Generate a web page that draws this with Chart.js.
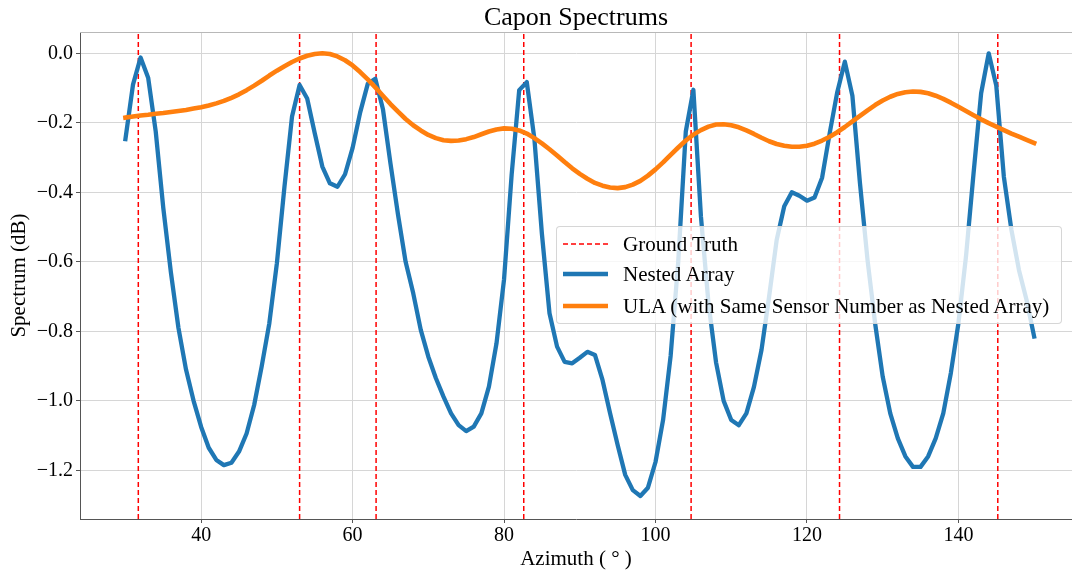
<!DOCTYPE html>
<html>
<head>
<meta charset="utf-8">
<title>Capon Spectrums</title>
<script src="https://cdn.jsdelivr.net/npm/chart.js@4.4.0/dist/chart.umd.min.js"></script>
<style>
  html, body { margin: 0; padding: 0; background: #fff; }
  #wrap { position: relative; width: 1072px; height: 574px; }
  #legend {
    position: absolute; left: 556px; top: 226px; width: 504px; height: 96px;
    background: rgba(255, 255, 255, 0.8);
    border: 1px solid rgba(204, 204, 204, 0.8);
    border-radius: 4px;
    font-family: "Liberation Serif", "Times New Roman", serif;
    font-size: 21px; color: #000;
  }
  .row { position: absolute; left: 0; height: 30px; display: flex; align-items: center; white-space: nowrap; }
  .row svg { margin-left: 6px; }
  .row span { margin-left: 15px; }
</style>
</head>
<body>
<div id="wrap">
  <canvas id="chart" width="1072" height="574"></canvas>
  <div id="legend"></div>
</div>
<script>
// azimuth grid (deg), 1 degree steps
const azimuth = [];
for (let a = 30; a <= 150; a++) azimuth.push(a);

// Nested array Capon spectrum (dB)
const nestedArray = [
  -0.247, -0.090, -0.012, -0.070, -0.225, -0.445, -0.630, -0.790, -0.910, -1.000,   // 30-39
  -1.075, -1.135, -1.170, -1.185, -1.178, -1.146, -1.094, -1.012, -0.900, -0.777,   // 40-49
  -0.604, -0.384, -0.182, -0.091, -0.130, -0.230, -0.326, -0.374, -0.384, -0.348,   // 50-59
  -0.272, -0.170, -0.088, -0.073, -0.160, -0.317, -0.465, -0.600, -0.690, -0.796,   // 60-69
  -0.873, -0.935, -0.988, -1.036, -1.070, -1.087, -1.074, -1.036, -0.959, -0.835,   // 70-79
  -0.650, -0.350, -0.106, -0.083, -0.245, -0.520, -0.748, -0.844, -0.888, -0.892,   // 80-89
  -0.876, -0.859, -0.868, -0.940, -1.036, -1.127, -1.213, -1.257, -1.274, -1.250,   // 90-99
  -1.176, -1.055, -0.870, -0.600, -0.225, -0.105, -0.470, -0.720, -0.890, -1.000,   // 100-109
  -1.055, -1.070, -1.036, -0.960, -0.853, -0.700, -0.537, -0.440, -0.400, -0.410,   // 110-119
  -0.424, -0.415, -0.358, -0.230, -0.112, -0.024, -0.122, -0.374, -0.595, -0.777,   // 120-129
  -0.930, -1.036, -1.108, -1.160, -1.190, -1.190, -1.160, -1.108, -1.036, -0.920,   // 130-139
  -0.777, -0.585, -0.345, -0.115,  0.000, -0.093, -0.355, -0.508, -0.624, -0.710,   // 140-149
  -0.815                                                                            // 150
];

// ULA with the same sensor number (dB)
const ulaArray = [
  -0.185, -0.182, -0.179, -0.177, -0.174, -0.172, -0.169, -0.166, -0.163, -0.159,   // 30-39
  -0.155, -0.150, -0.144, -0.137, -0.128, -0.118, -0.106, -0.093, -0.079, -0.064,   // 40-49
  -0.050, -0.037, -0.025, -0.015, -0.007, -0.002,  0.000, -0.002, -0.009, -0.020,   // 50-59
  -0.035, -0.054, -0.075, -0.098, -0.122, -0.146, -0.168, -0.189, -0.207, -0.222,   // 60-69
  -0.235, -0.244, -0.250, -0.252, -0.251, -0.247, -0.241, -0.233, -0.225, -0.219,   // 70-79
  -0.216, -0.217, -0.222, -0.231, -0.244, -0.259, -0.276, -0.294, -0.313, -0.331,   // 80-89
  -0.347, -0.361, -0.373, -0.381, -0.386, -0.388, -0.385, -0.378, -0.367, -0.352,   // 90-99
  -0.334, -0.314, -0.292, -0.271, -0.251, -0.234, -0.221, -0.211, -0.205, -0.204,   // 100-109
  -0.207, -0.213, -0.222, -0.232, -0.243, -0.253, -0.261, -0.266, -0.269, -0.269,   // 110-119
  -0.266, -0.260, -0.251, -0.240, -0.227, -0.212, -0.196, -0.180, -0.164, -0.149,   // 120-129
  -0.136, -0.125, -0.117, -0.112, -0.110, -0.111, -0.115, -0.122, -0.131, -0.142,   // 130-139
  -0.154, -0.166, -0.178, -0.190, -0.201, -0.211, -0.221, -0.231, -0.240, -0.249,   // 140-149
  -0.258                                                                            // 150
];

// true source directions (deg)
const groundTruth = [31.7, 53.0, 63.1, 82.6, 104.7, 124.3, 145.2];

const xTicks = [40, 60, 80, 100, 120, 140];
const yTicks = [0.0, -0.2, -0.4, -0.6, -0.8, -1.0, -1.2];
const xMin = 24, xMax = 155;
const yMin = -1.34, yMax = 0.0613;

const serif = "'Liberation Serif', 'Times New Roman', serif";
const blue = '#1f77b4';
const orange = '#ff7f0e';
const red = '#ff0000';

function pairs(xs, ys) {
  return xs.map((x, i) => ({ x: x, y: ys[i] }));
}

// vertical dashed lines, separated by null gaps
const gtData = [];
groundTruth.forEach((a) => {
  gtData.push({ x: a, y: yMin }, { x: a, y: yMax }, { x: a, y: null });
});

const series = [
  { label: 'Ground Truth', data: gtData, color: red, width: 1.5, dash: [5, 3], order: 3 },
  { label: 'Nested Array', data: pairs(azimuth, nestedArray), color: blue, width: 4.3, dash: [], order: 2 },
  { label: 'ULA (with Same Sensor Number as Nested Array)', data: pairs(azimuth, ulaArray), color: orange, width: 4.6, dash: [], order: 1 },
];

const topFrame = {
  id: 'topFrame',
  beforeDatasetsDraw(chart) {
    const a = chart.chartArea;
    const ctx = chart.ctx;
    ctx.save();
    ctx.strokeStyle = '#b8b8b8';
    ctx.lineWidth = 1;
    ctx.beginPath();
    ctx.moveTo(a.left, a.top + 0.5);
    ctx.lineTo(a.right, a.top + 0.5);
    ctx.stroke();
    ctx.restore();
  },
};

new Chart(document.getElementById('chart'), {
  type: 'line',
  data: {
    datasets: series.map((s) => ({
      label: s.label,
      data: s.data,
      borderColor: s.color,
      backgroundColor: s.color,
      borderWidth: s.width,
      borderDash: s.dash,
      borderCapStyle: s.dash.length ? 'butt' : 'square',
      borderJoinStyle: 'round',
      pointRadius: 0,
      tension: 0,
      spanGaps: false,
      order: s.order,
    })),
  },
  options: {
    responsive: false,
    animation: false,
    devicePixelRatio: 1,
    layout: { padding: 0 },
    plugins: {
      legend: { display: false },
      tooltip: { enabled: false },
      title: {
        display: true,
        fullSize: false,
        text: 'Capon Spectrums',
        color: '#000',
        font: { family: serif, size: 26, weight: 'normal', lineHeight: 1.0 },
        padding: { top: 5, bottom: 1 },
      },
    },
    scales: {
      x: {
        type: 'linear',
        min: xMin,
        max: xMax,
        afterBuildTicks: (s) => { s.ticks = xTicks.map((v) => ({ value: v })); },
        afterFit: (s) => { s.height = 55; },
        ticks: { color: '#000', font: { family: serif, size: 20 }, padding: 1, maxRotation: 0, autoSkip: false },
        grid: { color: '#d6d6d6', tickColor: '#555', tickLength: 4 },
        border: { color: '#555', width: 1 },
        title: {
          display: true, text: 'Azimuth ( ° )', color: '#000',
          font: { family: serif, size: 21 }, padding: { top: 0, bottom: 2 },
        },
      },
      y: {
        type: 'linear',
        min: yMin,
        max: yMax,
        afterBuildTicks: (s) => { s.ticks = yTicks.map((v) => ({ value: v })); },
        afterFit: (s) => { s.width = 80; },
        ticks: {
          color: '#000', font: { family: serif, size: 20 }, padding: 3,
          callback: (v) => (v < 0 ? '\u2212' : '') + Math.abs(v).toFixed(1),
        },
        grid: { color: '#d6d6d6', tickColor: '#555', tickLength: 4 },
        border: { color: '#555', width: 1 },
        title: {
          display: true, text: 'Spectrum (dB)', color: '#000',
          font: { family: serif, size: 21 }, padding: { top: 7, bottom: 0 },
        },
      },
    },
  },
  plugins: [topFrame],
});

// legend box drawn over the plot, like the original
const legendEl = document.getElementById('legend');
const rowCenters = [17, 47, 79];
series.forEach((s, i) => {
  const row = document.createElement('div');
  row.className = 'row';
  row.style.top = (rowCenters[i] - 15) + 'px';
  const dash = s.dash.length ? ` stroke-dasharray="${s.dash.join(',')}"` : '';
  row.innerHTML =
    `<svg width="45" height="10"><line x1="0" y1="5" x2="45" y2="5" stroke="${s.color}" stroke-width="${s.width}"${dash}/></svg>` +
    `<span>${s.label}</span>`;
  legendEl.appendChild(row);
});
</script>
</body>
</html>
